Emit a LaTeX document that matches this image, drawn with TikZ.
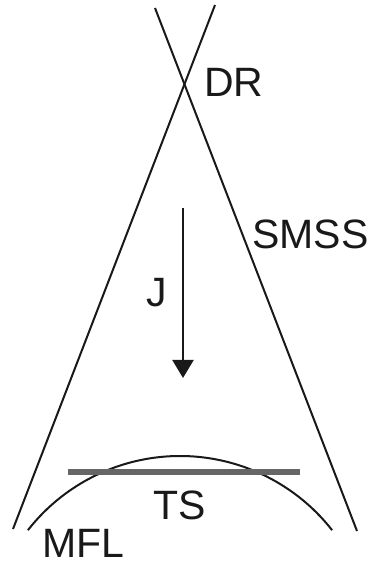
\documentclass[tikz,border=0pt]{standalone}
\usepackage{fontspec}
\setmainfont{Liberation Sans}
\usetikzlibrary{arrows.meta}
\tikzset{
  lbl/.style={anchor=base west, inner sep=0pt, font=\fontsize{41}{41}\selectfont, text=black!90},
  ray/.style={line width=2pt, black!90},
  bar/.style={line width=6pt, color=black!60},
}
\begin{document}
\begin{tikzpicture}[x=1pt,y=1pt]
\useasboundingbox (0,0) rectangle (371,562);
% lines crossing at DR
\coordinate (a1) at (155,554);
\coordinate (a2) at (357,31);
\coordinate (b1) at (215,557);
\coordinate (b2) at (13,33);
\draw[ray] (a1) -- (a2);
\draw[ray] (b1) -- (b2);
% MFL arc
\draw[ray] (180,-87) ++(142:193) arc[start angle=142, end angle=38, radius=193];
% TS bar
\coordinate (t1) at (68,90);
\coordinate (t2) at (300,90);
\draw[bar] (t1) -- (t2);
% J arrow
\coordinate (j1) at (183,354);
\coordinate (j2) at (183,184);
\draw[ray, -{Triangle[width=21pt,length=18pt]}] (j1) -- (j2);
% labels
\node[lbl] (dr) at (204,465) {DR};
\node[lbl] (smss) at (252,313) {SMSS};
\node[lbl] (j) at (146,255) {J};
\node[lbl] (mfl) at (42,5) {MFL};
\node[lbl] (ts) at (153,42) {TS};
\end{tikzpicture}
\end{document}
